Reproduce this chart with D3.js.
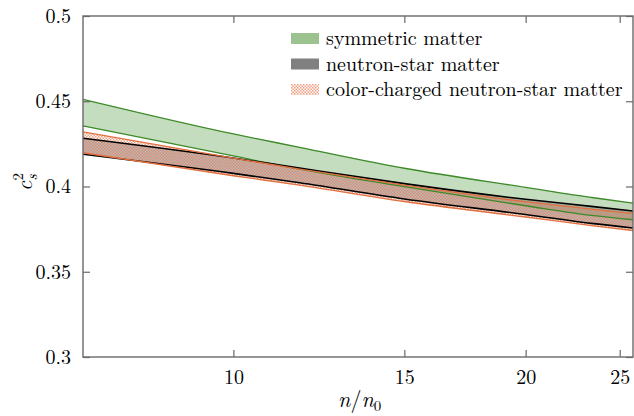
<!DOCTYPE html>
<html lang="en">
<head>
    <meta charset="UTF-8">
    <title>Speed of sound squared vs density</title>
    <style>
        body {
            margin: 0;
            background: #fff;
        }
    </style>
</head>
<body>
    <div id="chart"></div>

    <script src="https://d3js.org/d3.v7.min.js"></script>
    <script>
        // density n/n0 where the band edges were read
        const nValues = [7, 10, 11.7, 15, 20, 23.5, 25.8];

        const symUpper = [0.4511, 0.4308, 0.4230, 0.4107, 0.3995, 0.3934, 0.3903];
        const symLower = [0.4355, 0.4179, 0.4102, 0.3999, 0.3887, 0.3829, 0.3805];
        const nsUpper = [0.4283, 0.4167, 0.4108, 0.4017, 0.3925, 0.3882, 0.3856];
        const nsLower = [0.4189, 0.4077, 0.4022, 0.3927, 0.3836, 0.3782, 0.3757];
        const ccUpper = [0.4321, 0.4167, 0.4102, 0.4008, 0.3911, 0.3866, 0.3842];
        const ccLower = [0.4198, 0.4063, 0.4008, 0.3912, 0.3821, 0.3769, 0.3742];

        const xTicks = [10, 15, 20, 25];
        const yTicks = [0.3, 0.35, 0.4, 0.45, 0.5];
        const yTickLabels = ['0.3', '0.35', '0.4', '0.45', '0.5'];

        const legendLabels = ['symmetric matter', 'neutron-star matter', 'color-charged neutron-star matter'];

        const width = 634;
        const height = 416;
        const margin = { top: 16, right: 1, bottom: 59, left: 83 };
        const innerW = width - margin.left - margin.right;
        const innerH = height - margin.top - margin.bottom;

        const serif = '"Latin Modern Roman", "Liberation Serif", serif';
        const green = '#3c8a28';
        const orange = '#e2703f';
        const axisColor = '#6a6a6a';

        const svg = d3.select('#chart')
            .append('svg')
            .attr('width', width)
            .attr('height', height)
            .style('font-family', serif);

        const defs = svg.append('defs');
        const pat = defs.append('pattern')
            .attr('id', 'cross')
            .attr('patternUnits', 'userSpaceOnUse')
            .attr('width', 3)
            .attr('height', 3);
        pat.append('rect').attr('x', 0).attr('y', 0).attr('width', 1.5).attr('height', 1.5)
            .attr('fill', '#e8805a').attr('fill-opacity', 0.75);
        pat.append('rect').attr('x', 1.5).attr('y', 1.5).attr('width', 1.5).attr('height', 1.5)
            .attr('fill', '#e8805a').attr('fill-opacity', 0.75);

        defs.append('clipPath').attr('id', 'plotClip')
            .append('rect').attr('width', innerW).attr('height', innerH);

        const x = d3.scaleLog().domain([7, 25.8]).range([0, innerW]);
        const y = d3.scaleLinear().domain([0.3, 0.5]).range([innerH, 0]);

        const g = svg.append('g').attr('transform', `translate(${margin.left},${margin.top})`);

        const rows = nValues.map((n, i) => ({
            n: n,
            su: symUpper[i], sl: symLower[i],
            nu: nsUpper[i], nl: nsLower[i],
            cu: ccUpper[i], cl: ccLower[i]
        }));

        const band = (lo, hi) => d3.area()
            .curve(d3.curveMonotoneX)
            .x(d => x(d.n))
            .y0(d => y(d[lo]))
            .y1(d => y(d[hi]));
        const edge = key => d3.line()
            .curve(d3.curveMonotoneX)
            .x(d => x(d.n))
            .y(d => y(d[key]));

        const plot = g.append('g').attr('clip-path', 'url(#plotClip)');

        plot.append('path').datum(rows).attr('d', band('sl', 'su'))
            .attr('fill', '#c5ddbf');
        plot.append('path').datum(rows).attr('d', band('nl', 'nu'))
            .attr('fill', '#808080').attr('fill-opacity', 0.55);
        plot.append('path').datum(rows).attr('d', band('cl', 'cu'))
            .attr('fill', 'url(#cross)');

        [['su', green], ['sl', green], ['nu', '#000'], ['nl', '#000'], ['cu', orange], ['cl', orange]]
            .forEach(([key, color]) => {
                plot.append('path').datum(rows).attr('d', edge(key))
                    .attr('fill', 'none')
                    .attr('stroke', color)
                    .attr('stroke-width', key[0] === 'n' ? 1.6 : 1.3);
            });

        // axes with inward ticks on all four sides
        const xAxis = g.append('g').attr('transform', `translate(0,${innerH})`)
            .call(d3.axisBottom(x).tickValues(xTicks).tickFormat(d3.format('d'))
                .tickSizeInner(-7).tickSizeOuter(0).tickPadding(13));
        const xTop = g.append('g')
            .call(d3.axisTop(x).tickValues(xTicks).tickFormat('')
                .tickSizeInner(-7).tickSizeOuter(0));
        const yAxis = g.append('g')
            .call(d3.axisLeft(y).tickValues(yTicks).tickFormat((d, i) => yTickLabels[i])
                .tickSizeInner(-7).tickSizeOuter(0).tickPadding(12));
        const yRight = g.append('g').attr('transform', `translate(${innerW},0)`)
            .call(d3.axisRight(y).tickValues(yTicks).tickFormat('')
                .tickSizeInner(-7).tickSizeOuter(0));

        [xAxis, xTop, yAxis, yRight].forEach(a => {
            a.attr('font-family', null).attr('font-size', null);
            a.select('.domain').remove();
            a.selectAll('.tick line').attr('stroke', axisColor).attr('stroke-width', 1.2);
            a.selectAll('.tick text').style('font-family', serif).style('font-size', '20px');
        });

        g.append('rect')
            .attr('width', innerW).attr('height', innerH)
            .attr('fill', 'none')
            .attr('stroke', axisColor)
            .attr('stroke-width', 1.4);

        // axis labels
        const xl = svg.append('text')
            .attr('x', 338).attr('y', 407)
            .style('font-family', serif)
            .style('font-size', '22px');
        xl.append('tspan').style('font-style', 'italic').text('n');
        xl.append('tspan').text('/');
        xl.append('tspan').style('font-style', 'italic').text('n');
        xl.append('tspan').style('font-size', '15px').attr('dy', 4).text('0');

        const yl = svg.append('g').attr('transform', 'translate(32,191) rotate(-90)')
            .style('font-family', serif);
        yl.append('text').attr('x', 0).attr('y', 0).style('font-size', '22px')
            .style('font-style', 'italic').text('c');
        yl.append('text').attr('x', 10.5).attr('y', -9).style('font-size', '15px').text('2');
        yl.append('text').attr('x', 10.5).attr('y', 5).style('font-size', '15px')
            .style('font-style', 'italic').text('s');

        // legend
        const legend = svg.append('g')
            .attr('transform', 'translate(291,33)');
        const swatchFill = ['#9cc28f', '#808080', 'url(#cross)'];
        legendLabels.forEach((label, i) => {
            const row = legend.append('g').attr('transform', `translate(0,${i * 25.5})`);
            row.append('rect').attr('width', 28).attr('height', 11)
                .attr('fill', swatchFill[i]);
            row.append('text').attr('x', 35).attr('y', 12)
                .style('font-family', serif).style('font-size', '20px').text(label);
        });
    </script>
</body>
</html>
